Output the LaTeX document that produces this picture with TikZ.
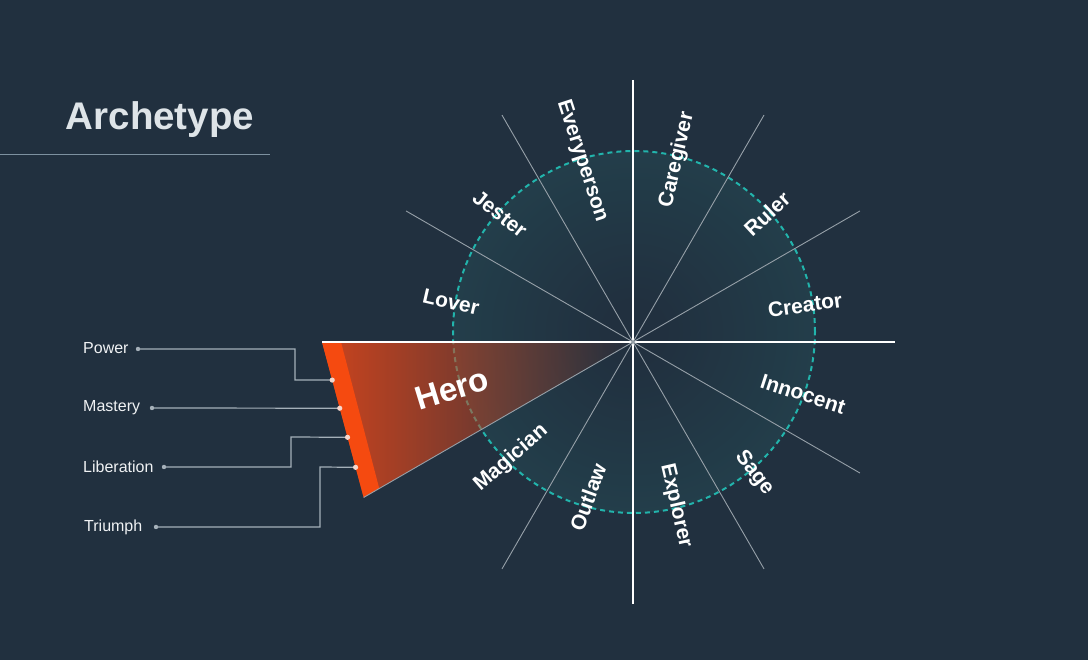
\documentclass[tikz,border=0pt]{standalone}
\usepackage{fontspec}
\setmainfont{Liberation Sans}
\usetikzlibrary{fadings,calc}
\definecolor{bgc}{RGB}{33,48,63}
\definecolor{circedge}{RGB}{38,84,94}
\definecolor{circmid}{RGB}{35,64,76}
\definecolor{dashteal}{RGB}{34,180,172}
\definecolor{heroorange}{RGB}{204,68,30}
\definecolor{striporange}{RGB}{245,74,16}
\definecolor{rayline}{RGB}{150,160,168}
\definecolor{conline}{RGB}{165,176,185}
\definecolor{titlec}{RGB}{222,228,232}
\definecolor{rulec}{RGB}{125,145,160}
\definecolor{leftlab}{RGB}{240,242,244}
\definecolor{edgedot}{RGB}{245,215,205}
\pgfdeclareradialshading{circshade}{\pgfpoint{0bp}{0bp}}{color(0bp)=(bgc); color(4bp)=(bgc); color(28bp)=(circmid); color(50bp)=(circedge)}
\tikzfading[name=wfade, left color=transparent!0, right color=transparent!100]
\tikzset{
  ray/.style={draw=rayline, line width=0.9pt},
  axisray/.style={draw=white, line width=1.3pt},
  wlabel/.style={text=white, font=\bfseries\fontsize{21}{24}\selectfont, inner sep=0pt},
  herolabel/.style={text=white, font=\bfseries\fontsize{33}{38}\selectfont, inner sep=0pt},
  llabel/.style={text=leftlab, font=\fontsize{16}{18}\selectfont, anchor=west, inner sep=0pt},
  conn/.style={draw=conline, line width=1.2pt},
  ldot/.style={fill=conline, draw=none},
  edot/.style={fill=edgedot, draw=none}
}
\begin{document}
\begin{tikzpicture}[x=1pt,y=1pt]
\useasboundingbox (0,0) rectangle (1088,660);
\fill[bgc] (0,0) rectangle (1088,660);
\coordinate (c) at (633,318);
\coordinate (cc) at (634,328);
% circle
\shade[shading=circshade] (cc) circle (181);
\draw[dashteal, line width=2pt, dash pattern=on 5pt off 4pt] (cc) circle (181);
% hero wedge
\coordinate (wa) at ($(c)+(180:311)$);
\coordinate (wb) at ($(c)+(210:311)$);
\coordinate (sa) at ($(c)+(180:292)$);
\coordinate (sb) at ($(c)+(210:293)$);
\fill[heroorange, path fading=wfade] (c) -- (wa) -- (wb) -- cycle;
\fill[striporange] (wa) -- (wb) -- (sb) -- (sa) -- cycle;
% rays
\draw[axisray] ($(c)+(90:262)$) -- ($(c)+(270:262)$);
\draw[axisray] (wa) -- ($(c)+(0:262)$);
\draw[ray] ($(c)+(30:262)$) -- (wb);
\draw[ray] ($(c)+(60:262)$) -- ($(c)+(240:262)$);
\draw[ray] ($(c)+(120:262)$) -- ($(c)+(300:262)$);
\draw[ray] ($(c)+(150:262)$) -- ($(c)+(330:262)$);
% title
\node[text=titlec, font=\bfseries\fontsize{38.5}{44}\selectfont, inner sep=0pt] (title) at (160,540) {Archetype};
\coordinate (ul) at (0,505);
\coordinate (ur) at (270,505);
\draw[draw=rulec, line width=1pt] (ul) -- (ur);
% left labels
\node[llabel] (power) at (83,312) {Power};
\node[llabel] (mastery) at (83,252) {Mastery};
\node[llabel] (liberation) at (83,193) {Liberation};
\node[llabel] (triumph) at (84,133) {Triumph};
\coordinate (d1) at (138,311);
\coordinate (d2) at (152,252);
\coordinate (d3) at (164,193);
\coordinate (d4) at (156,133);
\coordinate (e1) at ($(wa)!0.245!(wb)$);
\coordinate (e2) at ($(wa)!0.426!(wb)$);
\coordinate (e3) at ($(wa)!0.613!(wb)$);
\coordinate (e4) at ($(wa)!0.806!(wb)$);
\draw[conn] (d1) -- (295,311) -- (295,280) -- (e1);
\draw[conn] (d2) -- (e2);
\draw[conn] (d3) -- (291,193) -- (291,223) -- (e3);
\draw[conn] (d4) -- (320,133) -- (320,193) -- (e4);
\foreach \d in {d1,d2,d3,d4} \fill[ldot] (\d) circle (2.2);
\foreach \e in {e1,e2,e3,e4} \fill[edot] (\e) circle (2.6);
% wheel labels
\node[wlabel, rotate=77] (caregiver) at (677,500) {Caregiver};
\node[wlabel, rotate=-72] (everyperson) at (582,499) {Everyperson};
\node[wlabel, rotate=43] (ruler) at (767,446) {Ruler};
\node[wlabel, rotate=8] (creator) at (805,355) {Creator};
\node[wlabel, rotate=-18] (innocent) at (803,266) {Innocent};
\node[wlabel, rotate=-53] (sage) at (754,187) {Sage};
\node[wlabel, rotate=-77] (explorer) at (676,154) {Explorer};
\node[wlabel, rotate=70] (outlaw) at (588,163) {Outlaw};
\node[wlabel, rotate=41] (magician) at (511,202) {Magician};
\node[herolabel, rotate=17] (hero) at (452,271) {Hero};
\node[wlabel, rotate=-13] (lover) at (451,358) {Lover};
\node[wlabel, rotate=-38] (jester) at (500,446) {Jester};
\end{tikzpicture}
\end{document}
